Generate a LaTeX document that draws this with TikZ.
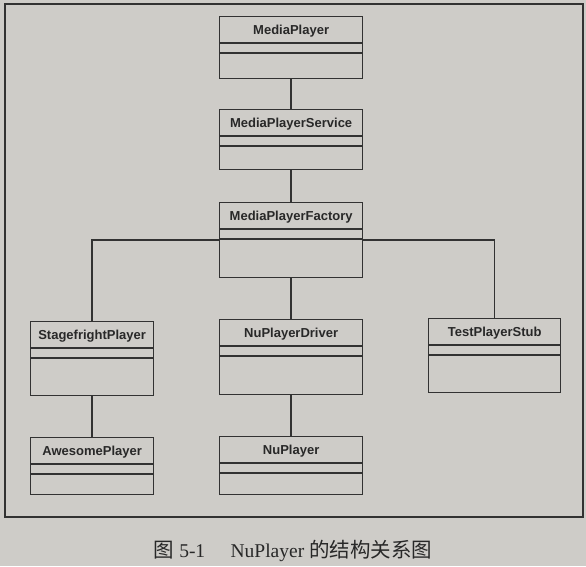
\documentclass[tikz,border=0pt]{standalone}
\usepackage{fontspec}
\setmainfont{Liberation Serif}
\newfontfamily\arialfont{Liberation Sans}
\newfontfamily\cjk{Noto Sans CJK SC}
\usetikzlibrary{calc}
\definecolor{paper}{RGB}{206,204,200}
\definecolor{ink}{RGB}{50,50,50}
\definecolor{txt}{RGB}{40,40,40}
\tikzset{
  umlbox/.style={draw=ink, line width=1.3pt, inner sep=0pt, anchor=north west},
  umltitle/.style={anchor=center, yshift=-15pt, text=txt, font=\arialfont\bfseries\fontsize{13}{15}\selectfont},
  umlline/.style={draw=ink, line width=1.3pt},
  conn/.style={draw=ink, line width=1.4pt},
  frame/.style={draw=ink, line width=1.4pt}
}
\newcommand{\umlclass}[6]{%
  \node[umlbox, minimum width={#4-#2}, minimum height={#5-#3},
        label={[umltitle]north:#6}] (#1) at (#2,#3) {};
  \draw[umlline] ([yshift=-27pt]#1.north west) -- ([yshift=-27pt]#1.north east);
  \draw[umlline] ([yshift=-37pt]#1.north west) -- ([yshift=-37pt]#1.north east);
}
\begin{document}
\begin{tikzpicture}[x=1pt,y=-1pt]
  \fill[paper] (0,0) rectangle (586,566);
  \useasboundingbox (0,0) rectangle (586,566);
  \draw[frame] (5,4) rectangle (583,517);

  \umlclass{mp}{219}{16}{362}{78}{MediaPlayer}
  \umlclass{mps}{219}{109}{362}{169}{MediaPlayerService}
  \umlclass{mpf}{219}{202}{362}{277}{MediaPlayerFactory}
  \umlclass{sp}{30}{321}{153}{395}{StagefrightPlayer}
  \umlclass{nd}{219}{319}{362}{394}{NuPlayerDriver}
  \umlclass{ts}{428}{318}{560}{392}{TestPlayerStub}
  \umlclass{ap}{30}{437}{153}{494}{AwesomePlayer}
  \umlclass{np}{219}{436}{362}{494}{NuPlayer}

  \draw[conn] (mp.south) -- (mps.north);
  \draw[conn] (mps.south) -- (mpf.north);
  \draw[conn] (mpf.south) -- (nd.north);
  \draw[conn] (mpf.west) -| (sp.north);
  \draw[conn] (mpf.east) -| (ts.north);
  \draw[conn] (sp.south) -- (ap.north);
  \draw[conn] (nd.south) -- (np.north);

  \node[text=txt, font=\fontsize{19.5}{22}\selectfont, inner sep=0pt] (cap) at (293,551)
    {{\cjk\fontsize{20.5}{22}\selectfont 图} 5-1\hspace{1.3em}NuPlayer {\cjk\fontsize{20.5}{22}\selectfont 的结构关系图}};
\end{tikzpicture}
\end{document}
